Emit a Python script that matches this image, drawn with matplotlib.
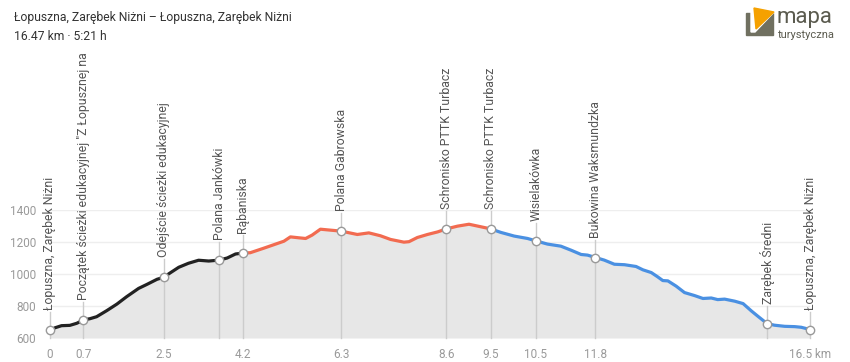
import numpy as np
import matplotlib
matplotlib.use("Agg")
import matplotlib.pyplot as plt
from matplotlib.patches import Polygon
from matplotlib.transforms import offset_copy

plt.rcParams['font.family'] = ['Roboto', 'DejaVu Sans']

# profile
km = [0, 0.11, 0.25, 0.43, 0.58, 0.72, 0.87, 1.01, 1.23, 1.45, 1.66, 1.92, 2.10, 2.32, 2.46, 2.61, 2.79, 3.00, 3.22, 3.44, 3.67, 3.84, 4.02, 4.18,
      4.34, 4.63, 4.85, 5.07, 5.21, 5.40, 5.54, 5.68, 5.86, 6.08, 6.31, 6.66, 6.91, 7.16, 7.38, 7.67, 7.78, 7.96, 8.18, 8.40, 8.59, 8.83, 9.08, 9.34, 9.55,
      9.77, 10.06, 10.35, 10.53, 10.78, 11.07, 11.29, 11.51, 11.65, 11.82, 12.01, 12.23, 12.45, 12.70, 12.85, 13.03, 13.17, 13.28, 13.39, 13.57, 13.75,
      13.97, 14.15, 14.33, 14.47, 14.62, 14.84, 15.02, 15.20, 15.34, 15.54, 15.70, 15.92, 16.14, 16.28, 16.47]
elev = [648, 664, 677, 679, 692, 712, 721, 733, 771, 812, 858, 910, 935, 967, 979, 1008, 1042, 1067, 1086, 1081, 1087, 1100, 1125, 1131,
        1133, 1161, 1183, 1205, 1232, 1226, 1222, 1243, 1280, 1274, 1268, 1247, 1257, 1239, 1216, 1199, 1202, 1228, 1247, 1263, 1282, 1299, 1311, 1295, 1282,
        1260, 1237, 1222, 1207, 1187, 1174, 1149, 1122, 1118, 1103, 1087, 1061, 1058, 1047, 1026, 1009, 982, 959, 957, 924, 884,
        865, 847, 850, 840, 843, 830, 815, 769, 736, 690, 680, 673, 671, 667, 653]

wp_names = ['Łopuszna, Zarębek Niżni', 'Początek ścieżki edukacyjnej "Z Łopusznej na',
            'Odejście ścieżki edukacyjnej', 'Polana Jankówki', 'Rąbaniska', 'Polana Gabrowska',
            'Schronisko PTTK Turbacz', 'Schronisko PTTK Turbacz', 'Wisielakówka',
            'Bukowina Waksmundzka', 'Zarębek Średni', 'Łopuszna, Zarębek Niżni']
wp_km = [0, 0.72, 2.46, 3.67, 4.18, 6.31, 8.59, 9.55, 10.53, 11.82, 15.54, 16.47]

tick_pos = [0, 0.72, 2.46, 4.18, 6.31, 8.59, 9.55, 10.53, 11.82, 16.47]
tick_lab = ['0', '0.7', '2.5', '4.2', '6.3', '8.6', '9.5', '10.5', '11.8', '16.5 km']

# segment colours: index where each segment ends
seg_end = [23, 48, len(km) - 1]
seg_col = ['#222222', '#f26b50', '#4a90e2']

km = np.array(km)
elev = np.array(elev)

fig = plt.figure(figsize=(8.5, 3.62), dpi=100)
ax = fig.add_axes([50 / 850, 24 / 362, 760 / 850, 128 / 362])

ax.fill_between(km, 600, elev, color='#e7e7e7', lw=0, zorder=1)
start = 0
for end, c in zip(seg_end, seg_col):
    ax.plot(km[start:end + 1], elev[start:end + 1], color=c, lw=2.3, zorder=3,
            solid_capstyle='round', solid_joinstyle='round')
    start = end

ax.set_xlim(0, 16.47)
ax.set_ylim(600, 1400)
ax.set_yticks([600, 800, 1000, 1200, 1400])
ax.set_xticks(tick_pos)
ax.set_xticklabels(tick_lab)
ax.tick_params(length=0, colors='#9a9a9a', labelsize=8.5)
ax.tick_params(axis='x', pad=7)
ax.tick_params(axis='y', pad=10)
ax.grid(axis='y', color='#eeeeee', lw=1)
ax.set_axisbelow(True)
for s in ax.spines.values():
    s.set_visible(False)

px = 800 / 128.0
for name, k in zip(wp_names, wp_km):
    e = np.interp(k, km, elev)
    ax.plot([k, k], [600, e + 18 * px], color='#cccccc', lw=1, zorder=2, clip_on=False)
    ax.plot(k, e, 'o', ms=6, mfc='white', mec='#999999', mew=1, zorder=4, clip_on=False)
    tr = offset_copy(ax.transData, fig=fig, x=0, y=20 * 72 / 100, units='points')
    ax.text(k, e, name, transform=tr, rotation=90, ha='center', va='bottom',
            fontsize=8.8, color='#555555', clip_on=False)

fig.text(14 / 850, 1 - 18 / 362, 'Łopuszna, Zarębek Niżni – Łopuszna, Zarębek Niżni',
         fontsize=8.75, color='#333333', va='center', ha='left')
fig.text(14 / 850, 1 - 36 / 362, '16.47 km · 5:21 h',
         fontsize=8.75, color='#333333', va='center', ha='left')

# logo
W, H = 850.0, 362.0
def fp(pts):
    return [(x / W, 1 - y / H) for x, y in pts]
fig.patches.append(Polygon(fp([(746, 13), (773, 13), (773, 35), (746, 35)]),
                           closed=True, color='#707060', transform=fig.transFigure, figure=fig))
fig.patches.append(Polygon(fp([(751, 6), (776, 10), (755, 32), (751, 32)]),
                           closed=True, color='white', transform=fig.transFigure, figure=fig))
fig.patches.append(Polygon(fp([(754, 8), (774, 12), (756, 29)]),
                           closed=True, color='#f5a100', transform=fig.transFigure, figure=fig))
fig.text(776 / W, 1 - 23 / H, 'mapa', fontsize=16, color='#5b5b4f', va='baseline', ha='left')
fig.text(778 / W, 1 - 38 / H, 'turystyczna', fontsize=8, color='#5b5b4f', va='baseline', ha='left')

fig.savefig('out.png', dpi=100)
